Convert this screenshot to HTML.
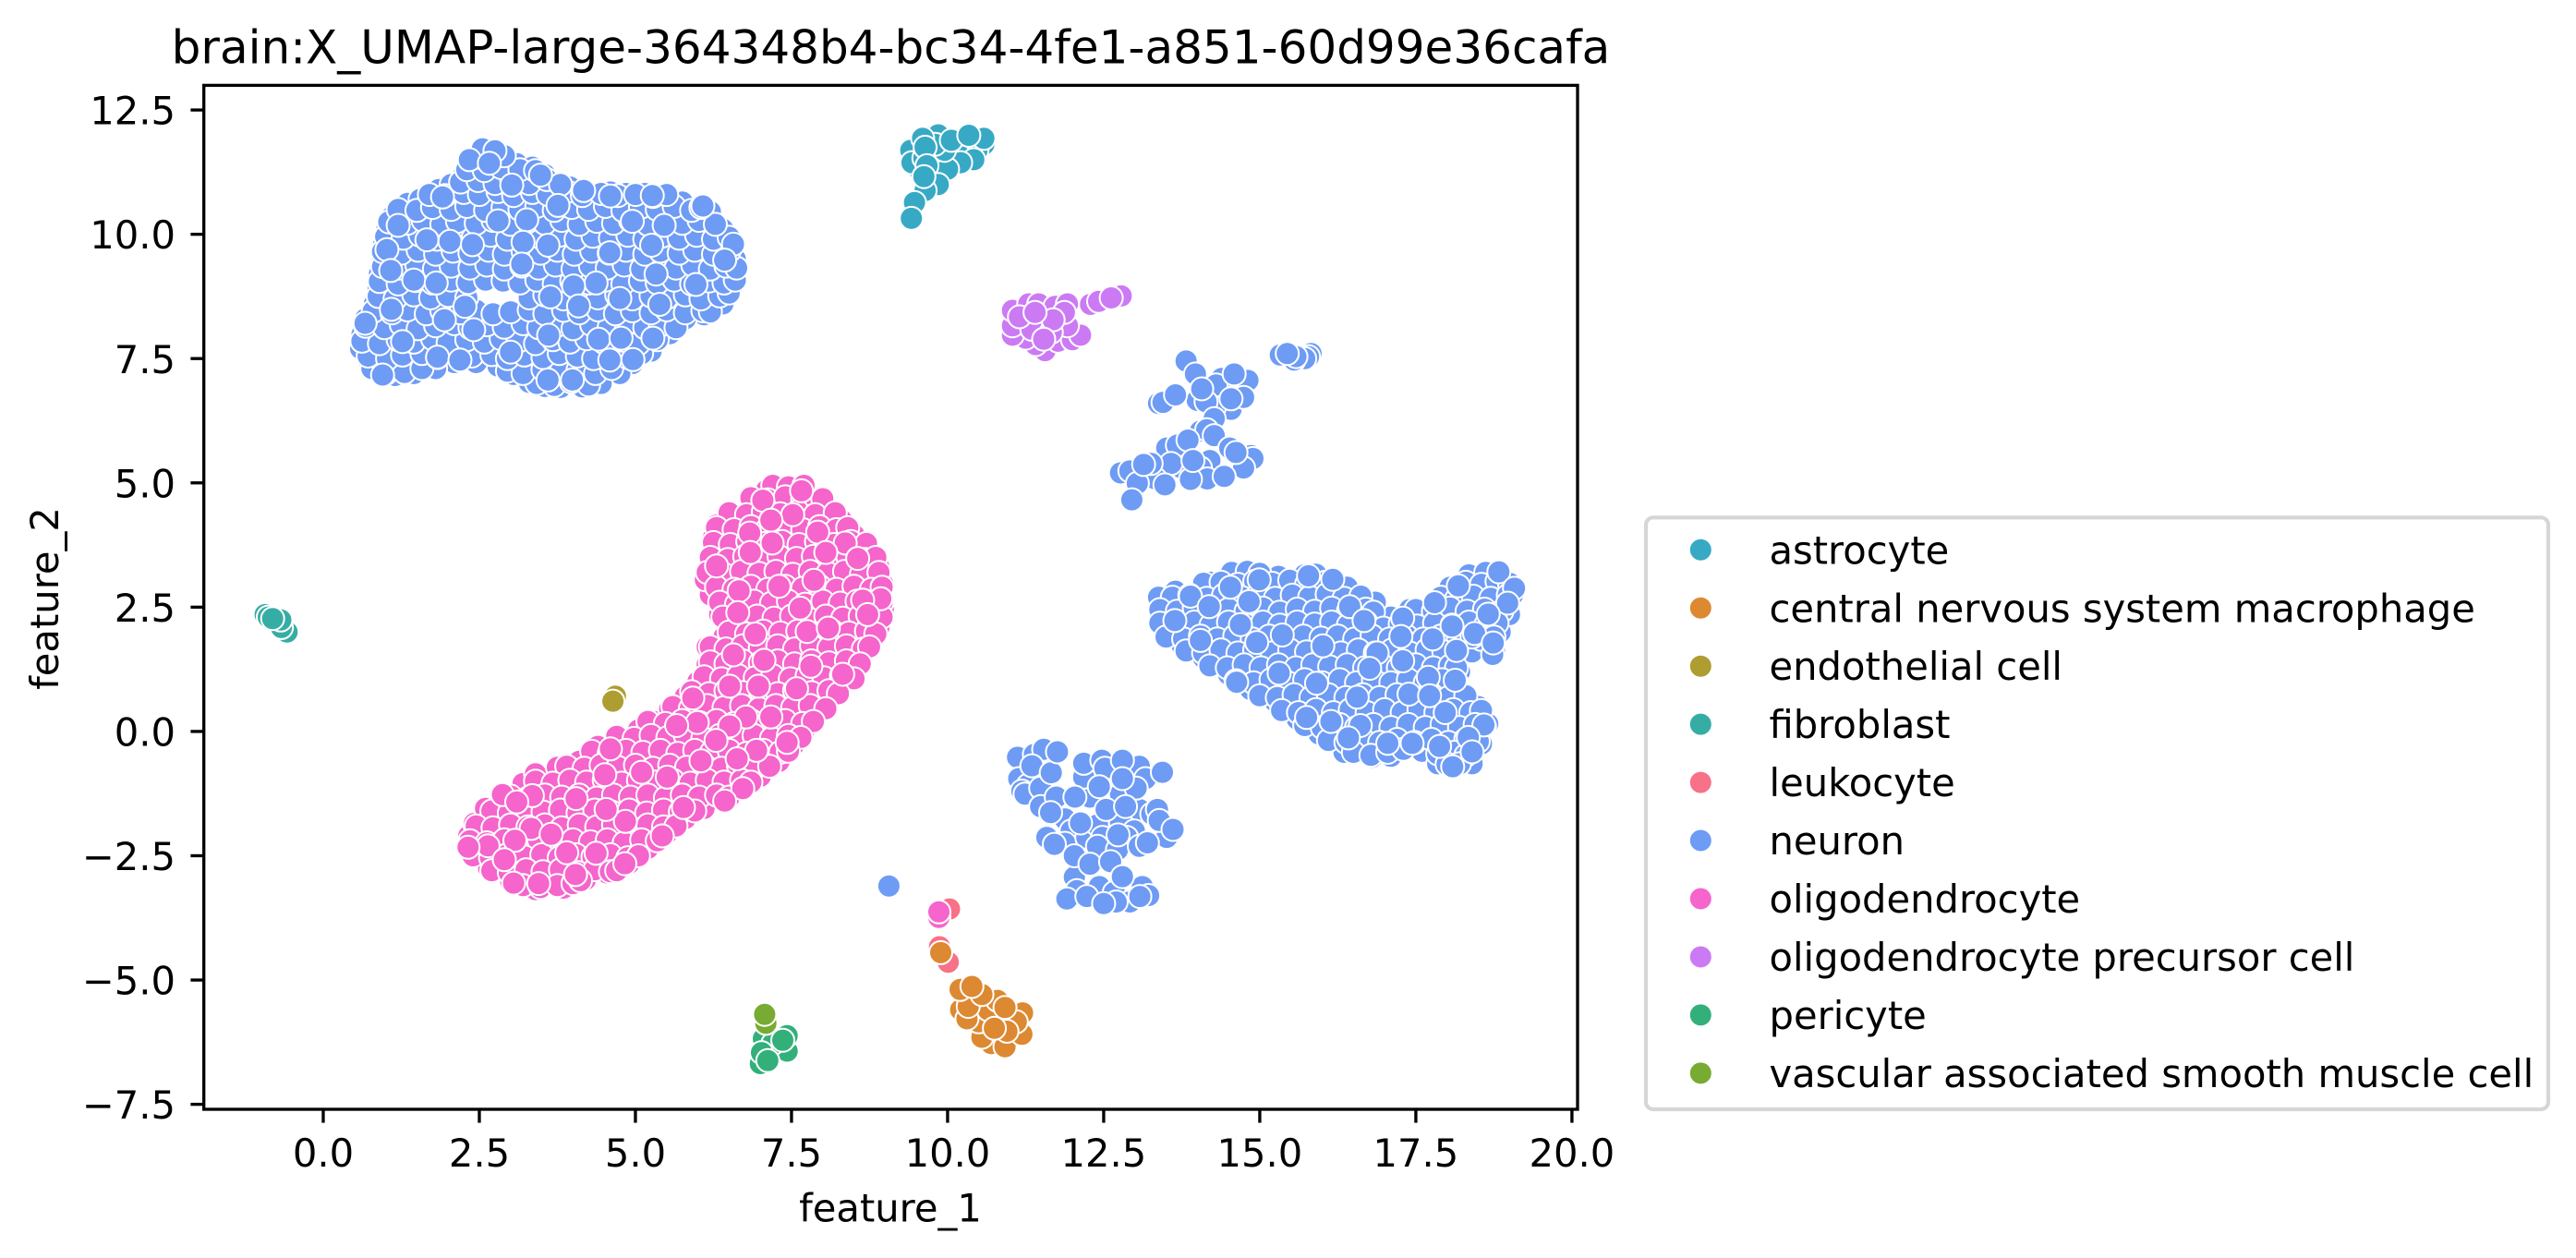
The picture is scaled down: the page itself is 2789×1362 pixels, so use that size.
<!DOCTYPE html>
<html lang="en">
<head>
<meta charset="utf-8">
<title>brain:X_UMAP-large scatter</title>
<style>
html,body{margin:0;padding:0;background:#fff;width:2789px;height:1362px;overflow:hidden}
svg{display:block}
text{font-family:"DejaVu Sans","Liberation Sans",sans-serif;fill:#000}
</style>
</head>
<body>
<svg id="chart" xmlns="http://www.w3.org/2000/svg" width="2789" height="1362" viewBox="0 0 2789 1362">
  <rect x="0" y="0" width="2789" height="1362" fill="#fff"/>
  <text x="964.5" y="68.3" font-size="50" text-anchor="middle">brain:X_UMAP-large-364348b4-bc34-4fe1-a851-60d99e36cafa</text>
  <g id="marks"></g>
  <rect x="220.7" y="92.4" width="1487.3" height="1108.6" fill="none" stroke="#000" stroke-width="3.33"/>
  <g id="xticks"></g>
  <g id="yticks"></g>
  <text x="964" y="1322.5" font-size="41.67" text-anchor="middle">feature_1</text>
  <text transform="translate(63 648) rotate(-90)" font-size="41.67" text-anchor="middle">feature_2</text>
  <g id="legend">
    <rect x="1782" y="560.3" width="977" height="640.7" rx="8" ry="8" fill="#fff" stroke="#d6d6d6" stroke-width="4.17"/>
  </g>
</svg>
<script>
const categories = ["astrocyte","central nervous system macrophage","endothelial cell","fibroblast","leukocyte","neuron","oligodendrocyte","oligodendrocyte precursor cell","pericyte","vascular associated smooth muscle cell"];
const categoryColors = ["#38a9c5","#dc8932","#ae9d31","#36ada4","#f77189","#6e9bf4","#f565cc","#cc7af4","#33b07a","#77ab31"];
const xTickValues = [0,2.5,5,7.5,10,12.5,15,17.5,20];
const xTickLabels = ["0.0","2.5","5.0","7.5","10.0","12.5","15.0","17.5","20.0"];
const yTickValues = [-7.5,-5,-2.5,0,2.5,5,7.5,10,12.5];
const yTickLabels = ["\u22127.5","\u22125.0","\u22122.5","0.0","2.5","5.0","7.5","10.0","12.5"];

const astrocytePoints = [[9.55,11.3],[9.75,11.6],[10.1,11.65],[9.5,11.55],[9.75,11.15],[10.3,11.75],[9.7,11.95],[9.85,12.0],[10.58,11.81],[10.47,11.69],[10.58,11.93],[10.21,11.56],[10.42,11.5],[10.21,11.44],[10.0,11.31],[9.95,11.69],[9.8,11.81],[9.41,11.69],[9.43,11.44],[9.62,11.53],[9.6,11.93],[10.06,11.89],[10.34,11.99],[9.85,11.0],[9.64,10.88],[9.47,10.64],[9.64,11.75],[9.67,11.38],[9.62,11.16],[9.42,10.32]];
const macrophagePoints = [[10.7,-6.28],[10.92,-6.34],[10.55,-6.15],[11.19,-6.09],[10.21,-5.6],[10.5,-5.84],[10.65,-5.6],[10.8,-5.41],[11.2,-5.66],[11.1,-5.84],[10.95,-6.03],[10.31,-5.78],[10.33,-5.53],[10.2,-5.19],[10.55,-5.29],[10.39,-5.13],[10.92,-5.55],[10.75,-5.97],[9.89,-4.45]];
const endothelialPoints = [[4.68,0.71],[4.64,0.61]];
const fibroblastPoints = [[-0.58,2.0],[-0.67,2.09],[-0.68,2.24],[-0.93,2.35],[-0.88,2.3],[-0.81,2.27]];
const leukocytePoints = [[10.03,-3.57],[9.87,-4.33],[10.01,-4.64]];
const neuronClusterTopLeft = [
[0.6,7.7],[0.62,7.98],[0.75,7.38],[0.85,7.25],[0.68,8.3],[0.82,8.6],[0.88,8.9],[0.9,9.2],[0.95,9.5],[0.97,9.8],[1.02,10.1],[1.1,10.35],[1.35,10.62],[1.55,10.7],[1.85,10.9],[2.05,11.0],[2.25,11.2],[2.35,11.4],[2.5,11.65],[2.85,11.6],[3.1,11.42],[3.35,11.35],[3.55,11.2],[3.95,10.95],[4.3,10.82],[4.6,10.85],[4.85,10.82],[5.15,10.82],[5.4,10.78],[5.75,10.65],[6.2,10.45],[6.4,10.1],[6.55,9.8],[6.6,9.5],[6.6,9.2],[6.55,8.95],[6.4,8.6],[6.1,8.38],[5.8,8.3],[5.55,8.0],[5.25,7.65],[4.95,7.4],[4.75,7.2],[4.45,7.0],[4.15,6.93],[3.8,6.92],[3.55,6.94],[3.3,7.02],[3.05,7.18],[2.8,7.35],[2.45,7.42],[2.1,7.42],[1.8,7.3],[1.45,7.2],[1.15,7.16],[0.78,7.3],
[3.42,7.0],[3.7,6.96],[3.97,7.03],[4.25,6.97],
[1.0,7.2],[1.3,7.22],[1.58,7.3],[2.95,7.25],[3.2,7.2],[3.52,7.28],[3.8,7.22],[4.08,7.27],[4.36,7.2],[4.62,7.3],
[0.72,7.55],[1.03,7.5],[1.27,7.57],[1.58,7.6],[1.83,7.52],[2.12,7.6],[2.38,7.55],[2.7,7.58],[2.95,7.5],[3.22,7.57],[3.52,7.52],[3.78,7.6],[4.07,7.55],[4.33,7.5],[4.63,7.58],[4.88,7.52],[5.1,7.6],
[0.62,7.85],[0.9,7.8],[1.2,7.88],[1.45,7.83],[1.75,7.9],[2.0,7.82],[2.3,7.88],[2.58,7.83],[2.85,7.9],[3.12,7.85],[3.4,7.8],[3.68,7.88],[3.95,7.83],[4.22,7.9],[4.5,7.82],[4.8,7.87],[5.05,7.8],[5.35,7.88],
[0.68,8.15],[0.98,8.12],[1.25,8.18],[1.52,8.1],[1.8,8.16],[2.1,8.2],[2.35,8.12],[2.62,8.18],[2.9,8.13],[3.2,8.2],[3.45,8.12],[3.75,8.17],[4.0,8.1],[4.3,8.18],[4.58,8.13],[4.85,8.2],[5.15,8.12],[5.4,8.17],[5.65,8.12],
[0.8,8.45],[1.1,8.42],[1.35,8.48],[1.65,8.4],[1.9,8.46],[2.2,8.42],[2.45,8.47],[2.72,8.4],[3.0,8.44],[3.3,8.48],[3.55,8.4],[3.85,8.47],[4.1,8.42],[4.4,8.48],[4.68,8.4],[4.95,8.46],[5.25,8.42],[5.5,8.48],[5.8,8.42],[6.08,8.46],[6.2,8.44],
[0.88,8.75],[1.15,8.7],[1.45,8.78],[1.72,8.72],[2.0,8.77],[2.3,8.72],[3.3,8.72],[3.55,8.78],[3.85,8.7],[4.12,8.77],[4.4,8.72],[4.7,8.78],[4.95,8.7],[5.25,8.76],[5.5,8.72],[5.8,8.78],[6.05,8.7],[6.35,8.76],[6.5,8.82],
[0.9,9.05],[1.2,9.0],[1.48,9.07],[1.75,9.02],[2.05,9.08],[2.32,9.03],[2.6,9.08],[2.88,9.06],[3.15,9.02],[3.42,9.08],[3.7,9.0],[3.98,9.06],[4.25,9.02],[4.52,9.08],[4.8,9.0],[5.08,9.06],[5.35,9.02],[5.62,9.08],[5.9,9.0],[6.18,9.06],[6.42,9.02],[6.6,9.08],
[0.95,9.35],[1.22,9.32],[1.5,9.38],[1.78,9.3],[2.05,9.36],[2.35,9.32],[2.62,9.38],[2.9,9.3],[3.18,9.36],[3.45,9.32],[3.72,9.38],[4.0,9.3],[4.28,9.36],[4.55,9.32],[4.82,9.38],[5.1,9.3],[5.4,9.36],[5.65,9.32],[5.92,9.38],[6.2,9.3],[6.45,9.36],[6.62,9.32],
[0.95,9.65],[1.25,9.62],[1.52,9.68],[1.8,9.6],[2.08,9.66],[2.35,9.62],[2.65,9.68],[2.9,9.6],[3.2,9.66],[3.48,9.62],[3.75,9.68],[4.02,9.6],[4.3,9.66],[4.58,9.62],[4.85,9.68],[5.15,9.6],[5.4,9.66],[5.7,9.62],[5.95,9.68],[6.25,9.6],[6.5,9.66],
[1.0,9.95],[1.28,9.92],[1.55,9.98],[1.82,9.9],[2.12,9.96],[2.4,9.92],[2.68,9.98],[2.95,9.9],[3.22,9.96],[3.5,9.92],[3.78,9.98],[4.05,9.9],[4.32,9.96],[4.6,9.92],[4.88,9.98],[5.15,9.9],[5.42,9.96],[5.7,9.92],[5.98,9.98],[6.25,9.9],[6.5,9.94],
[1.05,10.25],[1.35,10.22],[1.6,10.28],[1.9,10.2],[2.15,10.26],[2.45,10.22],[2.72,10.28],[3.0,10.2],[3.28,10.26],[3.55,10.22],[3.82,10.28],[4.1,10.2],[4.38,10.26],[4.65,10.22],[4.92,10.28],[5.2,10.2],[5.48,10.26],[5.75,10.22],[6.02,10.28],[6.28,10.2],
[1.2,10.5],[1.5,10.48],[1.75,10.54],[2.05,10.5],[2.3,10.56],[2.6,10.48],[2.88,10.54],[3.15,10.5],[3.42,10.56],[3.7,10.48],[3.98,10.54],[4.25,10.5],[4.52,10.56],[4.8,10.48],[5.08,10.54],[5.35,10.5],[5.62,10.56],[5.9,10.48],[6.05,10.54],
[1.7,10.8],[1.95,10.78],[2.25,10.84],[2.5,10.8],[2.8,10.86],[3.05,10.78],[3.35,10.84],[3.6,10.8],[3.9,10.86],[4.15,10.78],[4.45,10.82],[4.72,10.78],[5.0,10.8],[5.28,10.76],[5.5,10.8],
[2.2,11.05],[2.48,11.08],[2.75,11.02],[3.02,11.08],[3.3,11.02],[3.58,11.1],[3.8,11.0],
[2.3,11.3],[2.58,11.28],[2.85,11.34],[3.15,11.3],[3.4,11.28],
[2.45,11.55],[2.72,11.52],[2.9,11.58],[2.55,11.72],[2.75,11.68],
[2.34,11.5],[2.66,11.43],[3.02,10.99],[3.48,11.19],[1.91,10.75],[3.76,10.58],[4.17,10.88],[4.6,10.77],[5.27,10.78],[6.08,10.57],[1.2,10.18],[1.66,9.89],[2.03,9.86],[2.39,9.79],[2.8,10.27],[3.26,10.29],[3.2,9.84],[3.6,9.78],[4.95,10.26],[5.46,10.18],[5.26,9.78],[4.59,9.63],[6.57,9.8],[6.43,9.48],[1.02,9.69],[1.08,9.27],[1.45,9.08],[1.81,9.02],[3.18,9.4],[5.33,9.2],[4.37,9.02],[4.01,8.96],[5.97,8.99],[3.64,8.74],[2.27,8.55],[4.09,8.56],[4.75,8.71],[5.39,8.59],[1.09,8.49],[0.67,8.21],[1.94,8.28],[2.41,8.08],[1.27,7.84],[3.61,7.97],[4.41,7.89],[4.77,7.91],[5.28,7.91],[1.83,7.53],[2.19,7.47],[3.0,7.63],[4.59,7.47],[4.96,7.48],[0.95,7.17],[3.6,7.07],[3.99,7.07]
];
const neuronClusterRight = [
[13.38,2.7],[13.4,2.4],[13.5,2.05],[13.75,1.75],[14.1,1.48],[14.5,1.15],[14.85,0.85],[15.25,0.6],[15.6,0.25],[15.95,-0.05],[16.35,-0.42],[16.8,-0.52],[17.1,-0.5],[17.6,-0.4],[17.85,-0.65],[18.4,-0.65],[18.55,-0.25],[18.65,0.15],[18.5,0.5],[18.2,0.8],[18.2,1.2],[18.4,1.6],[18.55,1.85],[18.85,2.0],[19.0,2.35],[19.05,2.75],[19.0,3.0],[18.8,3.22],[18.35,3.15],[18.05,2.9],[17.75,2.55],[17.4,2.45],[17.1,2.3],[16.85,2.6],[16.4,2.9],[15.8,3.15],[15.3,3.12],[14.75,3.22],[14.2,3.0],[13.65,2.82],
[14.55,3.2],[14.8,3.22],[15.0,3.18],[15.72,3.15],[15.9,3.16],[18.62,3.2],[18.85,3.22],
[14.1,2.98],[14.38,3.0],[14.65,2.96],[14.92,3.02],[15.2,2.98],[15.48,3.04],[15.75,2.96],[16.05,3.0],[18.3,3.0],[18.55,2.96],[18.8,3.02],[19.0,2.98],
[13.6,2.7],[13.88,2.74],[14.15,2.68],[14.42,2.74],[14.7,2.7],[14.98,2.76],[15.25,2.68],[15.52,2.74],[15.8,2.7],[16.08,2.76],[16.35,2.68],[16.62,2.72],[17.9,2.7],[18.15,2.66],[18.42,2.72],[18.7,2.68],[18.98,2.74],
[13.4,2.45],[13.68,2.42],[13.95,2.48],[14.22,2.42],[14.5,2.46],[14.78,2.42],[15.05,2.48],[15.32,2.4],[15.6,2.46],[15.88,2.42],[16.15,2.48],[16.42,2.42],[16.7,2.46],[16.82,2.4],[17.5,2.45],[17.78,2.42],[18.05,2.48],[18.32,2.42],[18.6,2.46],[18.88,2.42],
[13.4,2.18],[13.68,2.14],[13.95,2.2],[14.22,2.14],[14.5,2.2],[14.78,2.14],[15.05,2.2],[15.32,2.14],[15.6,2.2],[15.88,2.16],[16.15,2.2],[16.42,2.14],[16.7,2.2],[16.98,2.08],[17.25,2.16],[17.52,2.12],[17.8,2.18],[18.08,2.14],[18.35,2.2],[18.62,2.14],[18.8,2.18],
[13.5,1.9],[13.78,1.86],[14.05,1.92],[14.32,1.86],[14.6,1.92],[14.88,1.86],[15.15,1.92],[15.42,1.86],[15.7,1.92],[15.98,1.88],[16.25,1.92],[16.52,1.86],[16.8,1.92],[17.08,1.86],[17.35,1.92],[17.62,1.86],[17.9,1.92],[18.18,1.86],[18.4,1.9],[18.75,1.9],
[13.82,1.62],[14.1,1.58],[14.38,1.64],[14.65,1.58],[14.92,1.64],[15.2,1.58],[15.48,1.64],[15.75,1.6],[16.02,1.64],[16.3,1.58],[16.58,1.64],[16.85,1.58],[17.12,1.64],[17.4,1.58],[17.68,1.64],[17.95,1.6],[18.15,1.62],[18.76,1.6],
[14.2,1.32],[14.48,1.28],[14.75,1.34],[15.02,1.28],[15.3,1.34],[15.58,1.28],[15.85,1.34],[16.12,1.3],[16.4,1.34],[16.68,1.28],[16.95,1.34],[17.22,1.28],[17.5,1.34],[17.78,1.28],[18.05,1.32],[18.15,1.28],
[14.62,1.02],[14.9,0.98],[15.18,1.04],[15.45,0.98],[15.72,1.04],[16.0,0.98],[16.28,1.04],[16.55,0.98],[16.82,1.04],[17.1,0.98],[17.38,1.04],[17.65,0.98],[17.92,1.04],[18.15,0.98],
[15.0,0.72],[15.28,0.68],[15.55,0.74],[15.82,0.68],[16.1,0.74],[16.38,0.68],[16.65,0.74],[16.92,0.68],[17.2,0.74],[17.48,0.68],[17.75,0.74],[18.02,0.68],[18.3,0.72],
[15.35,0.42],[15.62,0.38],[15.9,0.44],[16.18,0.38],[16.45,0.44],[16.72,0.38],[17.0,0.44],[17.28,0.38],[17.55,0.44],[17.82,0.38],[18.1,0.44],[18.38,0.38],[18.55,0.42],
[15.72,0.12],[16.0,0.08],[16.28,0.14],[16.55,0.08],[16.82,0.14],[17.1,0.08],[17.38,0.14],[17.65,0.08],[17.92,0.14],[18.2,0.08],[18.45,0.14],[18.6,0.1],
[16.1,-0.18],[16.38,-0.22],[16.65,-0.16],[16.92,-0.22],[17.2,-0.16],[17.48,-0.22],[17.75,-0.16],[18.02,-0.22],[18.3,-0.16],[18.5,-0.2],
[16.5,-0.42],[16.78,-0.48],[17.05,-0.42],[17.3,-0.36],[17.85,-0.45],[18.12,-0.42],[18.3,-0.48],[18.0,-0.66],[18.2,-0.65],
[13.89,2.72],[14.19,2.51],[14.53,2.9],[14.99,3.05],[14.83,2.61],[15.78,3.13],[16.17,3.06],[16.44,2.51],[16.67,2.23],[13.64,2.23],[14.69,2.15],[14.05,1.83],[15.36,1.94],[14.95,1.79],[16.01,1.72],[17.29,2.28],[17.26,1.91],[17.77,1.86],[17.8,2.59],[18.18,2.93],[18.83,3.21],[19.08,2.88],[18.97,2.58],[18.66,2.36],[18.08,2.12],[18.44,1.97],[18.15,1.63],[18.73,1.55],[18.74,1.78],[17.29,1.42],[16.88,1.58],[16.76,1.27],[15.31,1.17],[14.63,0.99],[15.91,0.97],[17.7,1.09],[18.13,1.03],[16.56,0.69],[17.39,0.75],[17.72,0.72],[17.97,0.38],[15.75,0.28],[16.14,0.2],[16.61,0.12],[18.59,0.13],[17.05,-0.24],[17.44,-0.24],[17.88,-0.3],[18.34,-0.12],[18.4,-0.41],[18.09,-0.71],[16.42,-0.13]
];
const neuronClusterUpperMid = [
[13.38,6.6],[13.51,6.66],[13.45,6.62],[14.81,7.06],[14.39,7.1],[14.3,6.97],[14.59,7.19],[14.54,6.48],[14.0,6.66],[14.27,6.51],[14.14,6.63],[14.74,6.72],[14.54,6.69],[13.82,7.45],[13.97,7.19],[13.65,6.77],[14.07,6.89],[14.27,6.29],[14.05,6.04],[14.15,6.07],[14.27,5.95],
[13.51,5.7],[13.68,5.76],[13.85,5.86],[14.52,5.7],[14.86,5.55],[14.89,5.49],[14.74,5.3],[14.2,5.45],[14.05,5.3],[13.75,5.3],[13.58,5.39],[13.33,5.08],[13.48,4.96],[13.26,5.39],[12.77,5.2],[12.92,5.24],[13.04,4.99],[12.95,4.66],[14.16,5.08],[13.89,5.07],[14.43,5.13],[13.93,5.45],[14.62,5.61],[13.14,5.37]
];
const neuronClusterSmallRight = [[15.82,7.6],[15.78,7.54],[15.72,7.5],[15.55,7.47],[15.58,7.54],[15.33,7.57],[15.44,7.6]];
const neuronClusterBottom = [
[11.12,-0.52],[11.39,-0.46],[11.14,-0.95],[11.29,-1.08],[11.19,-1.2],[11.24,-1.26],[11.49,-1.14],[11.49,-1.51],[11.74,-1.32],[11.88,-1.76],[11.98,-2.0],[11.59,-2.13],[11.88,-2.25],[12.23,-2.13],[12.4,-1.88],[12.77,-1.82],[13.07,-1.57],[12.28,-1.32],[12.77,-1.26],[12.18,-0.92],[12.18,-0.64],[12.47,-0.58],[13.07,-0.7],[13.27,-1.66],[13.36,-1.57],[12.99,-2.0],[12.48,-2.13],[12.87,-2.13],[12.4,-2.31],[12.72,-2.38],[13.07,-2.31],[13.51,-2.13],[12.03,-2.93],[12.43,-3.12],[13.12,-3.12],[12.67,-3.24],[12.92,-3.43],[12.7,-3.43],[13.22,-3.3],
[11.54,-0.36],[11.35,-0.69],[11.66,-0.83],[11.65,-1.63],[11.76,-0.41],[12.52,-0.74],[12.8,-0.58],[13.17,-0.95],[13.44,-0.82],[13.02,-1.14],[12.8,-0.95],[12.43,-1.11],[12.04,-1.32],[12.54,-1.57],[12.85,-1.51],[13.39,-1.79],[13.61,-1.97],[13.2,-2.24],[12.73,-2.08],[12.13,-1.84],[11.71,-2.27],[12.03,-2.5],[12.28,-2.67],[12.61,-2.62],[12.8,-2.92],[12.07,-3.2],[11.91,-3.37],[12.23,-3.32],[12.5,-3.46],[13.08,-3.32]
];
const neuronIsolatedPoints = [[9.06,-3.11]];
const neuronPoints = [].concat(neuronClusterTopLeft, neuronClusterRight, neuronClusterUpperMid, neuronClusterSmallRight, neuronClusterBottom, neuronIsolatedPoints);
const oligodendrocytePoints = [
[7.55,4.9],[8.0,4.6],[8.3,4.25],[8.5,3.95],[8.75,3.6],[8.9,3.3],[8.97,2.95],[8.97,2.45],[8.9,2.1],[8.75,1.75],[8.55,1.4],[8.4,1.1],[8.1,0.75],[7.9,0.4],[7.75,0.1],[7.55,-0.25],[7.3,-0.6],[7.0,-0.9],[6.75,-1.15],[6.4,-1.38],[6.1,-1.55],[5.8,-1.75],[5.5,-2.05],[5.2,-2.35],[4.9,-2.65],[4.55,-2.85],[4.2,-2.98],[3.85,-3.15],[3.4,-3.18],[3.0,-3.0],[2.65,-2.75],[2.4,-2.45],[2.33,-2.1],[2.42,-1.85],[2.6,-1.55],[2.85,-1.3],[3.2,-1.05],[3.4,-0.85],[3.75,-0.72],[4.1,-0.6],[4.4,-0.3],[4.7,-0.1],[5.05,0.03],[5.3,0.2],[5.55,0.45],[5.8,0.7],[6.0,1.0],[6.15,1.35],[6.15,1.7],[6.42,1.9],[6.35,2.35],[6.2,2.75],[6.12,3.05],[6.2,3.4],[6.25,3.9],[6.3,4.15],[6.6,4.35],[6.9,4.65],[7.1,4.85],
[7.2,4.95],[7.45,4.92],[7.7,4.95],
[6.85,4.7],[7.12,4.66],[7.4,4.72],[7.68,4.66],[8.0,4.68],
[6.5,4.4],[6.78,4.36],[7.05,4.42],[7.32,4.38],[7.6,4.42],[7.88,4.36],[8.2,4.4],
[6.3,4.1],[6.58,4.06],[6.85,4.12],[7.12,4.08],[7.4,4.12],[7.68,4.06],[7.95,4.12],[8.22,4.06],[8.4,4.1],
[6.25,3.8],[6.52,3.76],[6.8,3.82],[7.08,3.78],[7.35,3.82],[7.62,3.76],[7.9,3.82],[8.18,3.76],[8.45,3.82],[8.7,3.78],
[6.2,3.5],[6.48,3.46],[6.75,3.52],[7.02,3.46],[7.3,3.52],[7.58,3.48],[7.85,3.52],[8.12,3.46],[8.4,3.52],[8.68,3.46],[8.85,3.5],
[6.15,3.2],[6.42,3.16],[6.7,3.22],[6.98,3.18],[7.25,3.22],[7.52,3.16],[7.8,3.22],[8.08,3.18],[8.35,3.22],[8.62,3.16],[8.9,3.2],
[6.3,2.9],[6.58,2.86],[6.85,2.92],[7.12,2.86],[7.4,2.92],[7.68,2.88],[7.95,2.92],[8.22,2.86],[8.5,2.92],[8.78,2.86],[8.95,2.9],
[6.35,2.6],[6.62,2.56],[6.9,2.62],[7.18,2.58],[7.45,2.62],[7.72,2.56],[8.0,2.62],[8.28,2.58],[8.55,2.62],[8.82,2.56],[8.95,2.6],
[6.4,2.3],[6.68,2.26],[6.95,2.32],[7.22,2.28],[7.5,2.32],[7.78,2.26],[8.05,2.32],[8.32,2.28],[8.6,2.32],[8.88,2.26],[8.95,2.3],
[6.5,2.0],[6.78,1.96],[7.05,2.02],[7.32,1.98],[7.6,2.02],[7.88,1.96],[8.15,2.02],[8.42,1.98],[8.7,2.02],[8.85,1.96],
[6.2,1.7],[6.45,1.66],[6.72,1.72],[7.0,1.68],[7.28,1.72],[7.55,1.66],[7.82,1.72],[8.1,1.68],[8.38,1.72],[8.65,1.66],[8.75,1.7],
[6.2,1.4],[6.45,1.36],[6.72,1.42],[7.0,1.38],[7.28,1.42],[7.55,1.36],[7.82,1.42],[8.1,1.38],[8.38,1.42],[8.6,1.36],
[6.1,1.1],[6.38,1.06],[6.65,1.12],[6.92,1.08],[7.2,1.12],[7.48,1.06],[7.75,1.12],[8.02,1.08],[8.3,1.12],[8.5,1.06],
[5.9,0.8],[6.18,0.76],[6.45,0.82],[6.72,0.78],[7.0,0.82],[7.28,0.76],[7.55,0.82],[7.82,0.78],[8.1,0.82],[8.25,0.76],
[5.6,0.5],[5.88,0.46],[6.15,0.52],[6.42,0.48],[6.7,0.52],[6.98,0.46],[7.25,0.52],[7.52,0.48],[7.8,0.52],[8.05,0.46],
[5.2,0.2],[5.48,0.16],[5.75,0.22],[6.02,0.18],[6.3,0.22],[6.58,0.16],[6.85,0.22],[7.12,0.18],[7.4,0.22],[7.68,0.16],[7.85,0.2],
[4.7,-0.1],[4.98,-0.14],[5.25,-0.08],[5.52,-0.12],[5.8,-0.08],[6.08,-0.14],[6.35,-0.08],[6.62,-0.12],[6.9,-0.08],[7.18,-0.14],[7.45,-0.08],[7.65,-0.12],
[4.3,-0.4],[4.58,-0.44],[4.85,-0.38],[5.12,-0.42],[5.4,-0.38],[5.68,-0.44],[5.95,-0.38],[6.22,-0.42],[6.5,-0.38],[6.78,-0.44],[7.05,-0.38],[7.32,-0.42],[7.45,-0.4],
[3.9,-0.7],[4.18,-0.74],[4.45,-0.68],[4.72,-0.72],[5.0,-0.68],[5.28,-0.74],[5.55,-0.68],[5.82,-0.72],[6.1,-0.68],[6.38,-0.74],[6.65,-0.68],[6.92,-0.72],[7.15,-0.7],
[3.4,-1.0],[3.68,-1.04],[3.95,-0.98],[4.22,-1.02],[4.5,-0.98],[4.78,-1.04],[5.05,-0.98],[5.32,-1.02],[5.6,-0.98],[5.88,-1.04],[6.15,-0.98],[6.42,-1.02],[6.7,-0.98],[6.85,-1.02],
[3.0,-1.3],[3.28,-1.34],[3.55,-1.28],[3.82,-1.32],[4.1,-1.28],[4.38,-1.34],[4.65,-1.28],[4.92,-1.32],[5.2,-1.28],[5.48,-1.34],[5.75,-1.28],[6.02,-1.32],[6.3,-1.28],[6.5,-1.32],
[2.7,-1.6],[2.98,-1.64],[3.25,-1.58],[3.52,-1.62],[3.8,-1.58],[4.08,-1.64],[4.35,-1.58],[4.62,-1.62],[4.9,-1.58],[5.18,-1.64],[5.45,-1.58],[5.72,-1.62],[5.95,-1.6],
[2.45,-1.9],[2.72,-1.94],[3.0,-1.88],[3.28,-1.92],[3.55,-1.88],[3.82,-1.94],[4.1,-1.88],[4.38,-1.92],[4.65,-1.88],[4.92,-1.94],[5.2,-1.88],[5.45,-1.92],[5.65,-1.9],
[2.35,-2.2],[2.62,-2.24],[2.9,-2.18],[3.18,-2.22],[3.45,-2.18],[3.72,-2.24],[4.0,-2.18],[4.28,-2.22],[4.55,-2.18],[4.82,-2.24],[5.1,-2.18],[5.35,-2.2],
[2.4,-2.5],[2.68,-2.54],[2.95,-2.48],[3.22,-2.52],[3.5,-2.48],[3.78,-2.54],[4.05,-2.48],[4.32,-2.52],[4.6,-2.48],[4.88,-2.54],[5.05,-2.5],
[2.7,-2.8],[2.98,-2.84],[3.25,-2.78],[3.52,-2.82],[3.8,-2.78],[4.08,-2.84],[4.35,-2.78],[4.6,-2.82],[4.7,-2.8],
[3.2,-3.1],[3.48,-3.14],[3.75,-3.1],[4.0,-3.06],[4.12,-3.0],
[9.86,-3.74],
[7.04,4.65],[7.52,4.36],[7.66,4.84],[7.17,4.25],[6.83,3.99],[7.19,3.79],[7.92,4.01],[6.84,3.6],[8.36,3.79],[6.3,3.33],[8.56,3.48],[8.05,3.6],[7.86,3.04],[7.3,2.92],[6.66,2.83],[6.64,2.39],[8.93,2.67],[8.64,2.64],[8.72,2.35],[7.64,2.48],[7.75,2.01],[8.09,2.08],[6.92,1.96],[6.57,1.54],[7.06,1.43],[7.81,1.31],[8.32,1.15],[7.58,0.86],[6.97,0.91],[6.51,0.91],[5.92,0.67],[5.99,0.18],[5.66,0.12],[6.77,0.29],[7.17,0.29],[6.51,0.11],[6.29,-0.18],[7.43,-0.22],[6.94,-0.38],[6.63,-0.55],[6.05,-0.59],[4.6,-0.35],[5.1,-0.82],[4.51,-0.87],[5.51,-0.92],[6.72,-1.15],[6.43,-1.4],[5.77,-1.53],[5.43,-2.1],[4.84,-1.81],[4.53,-1.57],[4.05,-1.35],[2.87,-1.27],[3.35,-1.29],[3.1,-1.42],[3.33,-1.95],[3.65,-2.07],[3.07,-2.19],[2.64,-2.3],[2.32,-2.33],[2.9,-2.58],[3.9,-2.44],[4.37,-2.45],[4.83,-2.66],[4.04,-2.88],[3.05,-3.05],[3.45,-3.06],
[9.86,-3.63]
];
const opcPoints = [[11.2,8.3],[11.5,8.2],[11.8,8.0],[11.15,8.05],[12.78,8.76],[12.29,8.59],[12.42,8.65],[12.62,8.72],[11.56,7.66],[11.41,7.78],[11.25,7.91],[11.04,7.97],[11.77,7.85],[12.0,7.88],[12.13,7.97],[11.92,8.16],[11.04,8.16],[11.35,8.09],[11.66,8.03],[11.04,8.47],[11.3,8.6],[11.46,8.6],[11.72,8.55],[11.92,8.6],[11.87,8.43],[11.15,8.34],[11.69,8.28],[11.4,8.43],[11.54,7.89]];
const pericytePoints = [[7.0,-6.68],[7.43,-6.43],[7.43,-6.12],[7.05,-6.18],[7.2,-6.28],[7.02,-6.46],[7.36,-6.21],[7.12,-6.62]];
const vascularPoints = [[7.09,-5.87],[7.07,-5.69]];

const seriesPoints = [astrocytePoints, macrophagePoints, endothelialPoints, fibroblastPoints, leukocytePoints, neuronPoints, oligodendrocytePoints, opcPoints, pericytePoints, vascularPoints];
const seriesSlugs = ["astrocyte","macrophage","endothelial","fibroblast","leukocyte","neuron","oligodendrocyte","opc","pericyte","vascular"];
const drawOrder = [0,3,2,8,9,4,1,5,6,7];

const SVG_NS = "http://www.w3.org/2000/svg";
const plot = {left:221, right:1708, top:92.7, bottom:1201, xMin:-1.908, xMax:20.09, yMin:-7.6, yMax:12.99};
function xScale(v){ return plot.left + (v - plot.xMin) / (plot.xMax - plot.xMin) * (plot.right - plot.left); }
function yScale(v){ return plot.bottom - (v - plot.yMin) / (plot.yMax - plot.yMin) * (plot.bottom - plot.top); }
function make(tag, attrs, parent){
  const el = document.createElementNS(SVG_NS, tag);
  for (const k in attrs) el.setAttribute(k, attrs[k]);
  parent.appendChild(el);
  return el;
}

const marks = document.getElementById("marks");
drawOrder.forEach(function(idx){
  const group = make("g", {fill: categoryColors[idx], stroke: "#fff", "stroke-width": 2}, marks);
  
  
  seriesPoints[idx].forEach(function(p){
    const c = make("circle", {cx: xScale(p[0]).toFixed(1), cy: yScale(p[1]).toFixed(1), r: 12.5}, group);
    
    
  });
});

const xTicks = document.getElementById("xticks");
xTickValues.forEach(function(v, i){
  const x = xScale(v);
  const tick = make("line", {x1: x, x2: x, y1: plot.bottom, y2: plot.bottom + 14.6, stroke: "#000", "stroke-width": 3.33}, xTicks);
  
  
  const label = make("text", {x: x, y: 1263, "font-size": 41.67, "text-anchor": "middle"}, xTicks);
  label.textContent = xTickLabels[i];
  
  
});

const yTicks = document.getElementById("yticks");
yTickValues.forEach(function(v, i){
  const y = yScale(v);
  const tick = make("line", {x1: plot.left - 14.6, x2: plot.left, y1: y, y2: y, stroke: "#000", "stroke-width": 3.33}, yTicks);
  
  
  const label = make("text", {x: 190, y: y + 15.6, "font-size": 41.67, "text-anchor": "end"}, yTicks);
  label.textContent = yTickLabels[i];
  
  
});

const legend = document.getElementById("legend");
categories.forEach(function(name, i){
  const rowY = 595.3 + i * 62.95;
  const entry = make("g", {}, legend);
  
  
  const swatch = make("circle", {cx: 1841.3, cy: rowY, r: 12.5, fill: categoryColors[i], stroke: "#fff", "stroke-width": 2}, entry);
  
  
  const label = make("text", {x: 1915.5, y: rowY + 15, "font-size": 41.67}, entry);
  label.textContent = name;
  
  
});
</script>
</body>
</html>
